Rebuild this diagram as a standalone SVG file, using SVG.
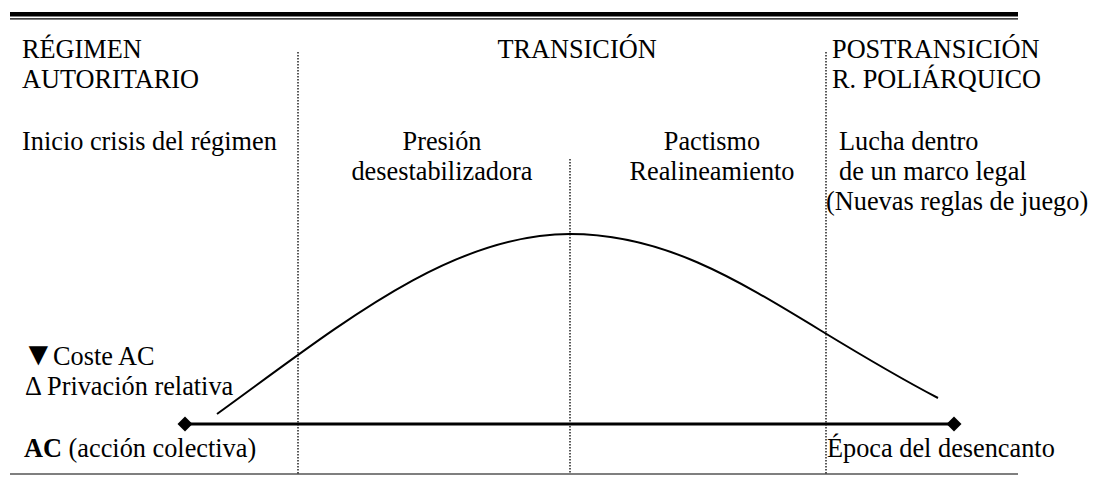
<svg xmlns="http://www.w3.org/2000/svg" width="1095" height="477" viewBox="0 0 1095 477">
  <style>
    text { font-family: "Liberation Serif", "Times New Roman", Tinos, "DejaVu Serif", serif; font-size: 26.3px; fill: #000; }
    .mid { text-anchor: middle; }
    .rule { stroke: #000; fill: none; }
    .dots { stroke: #000; stroke-width: 1.3; stroke-dasharray: 1.5 1.5; fill: none; }
    .curve { stroke: #000; stroke-width: 2; fill: none; }
    .axis { stroke: #000; stroke-width: 3; fill: none; }
  </style>
  <defs>
    <marker id="diamond" viewBox="-8 -8 16 16" markerWidth="16" markerHeight="16" refX="0" refY="0" markerUnits="userSpaceOnUse" orient="auto">
      <path d="M-7.5,0 L0,-7.5 L7.5,0 L0,7.5 Z" fill="#000"/>
    </marker>
  </defs>
  <rect width="1095" height="477" fill="#fff"/>

  <g id="frame">
    <rect x="10" y="12" width="1008" height="4.5" fill="#000"/>
    <line class="rule" x1="10" y1="18.8" x2="1018" y2="18.8" stroke-width="1.2"/>
    <line class="rule" x1="10" y1="474" x2="1018" y2="474" stroke-width="1.2"/>
  </g>

  <g id="dividers">
    <line class="dots" x1="298" y1="52" x2="298" y2="474"/>
    <line class="dots" x1="570" y1="159" x2="570" y2="474"/>
    <line class="dots" x1="826" y1="52" x2="826" y2="474"/>
  </g>

  <g id="connectors">
    <path class="curve" d="M217,414 C340,325 450,234 570,234 C700,234 788,320 938,398"/>
    <line class="axis" x1="185" y1="424" x2="954" y2="424" marker-start="url(#diamond)" marker-end="url(#diamond)"/>
  </g>

  <g id="regimen-autoritario">
    <text x="22" y="58">RÉGIMEN</text>
    <text x="22" y="88">AUTORITARIO</text>
  </g>
  <g id="transicion">
    <text class="mid" x="577" y="58">TRANSICIÓN</text>
  </g>
  <g id="postransicion">
    <text x="832" y="58">POSTRANSICIÓN</text>
    <text x="832" y="88">R. POLIÁRQUICO</text>
  </g>
  <g id="inicio-crisis">
    <text x="22" y="150">Inicio crisis del régimen</text>
  </g>
  <g id="presion">
    <text class="mid" x="442" y="150">Presión</text>
    <text class="mid" x="442" y="180">desestabilizadora</text>
  </g>
  <g id="pactismo">
    <text class="mid" x="712" y="150">Pactismo</text>
    <text class="mid" x="712" y="180">Realineamiento</text>
  </g>
  <g id="lucha">
    <text x="839" y="150">Lucha dentro</text>
    <text x="839" y="180">de un marco legal</text>
    <text x="826" y="210">(Nuevas reglas de juego)</text>
  </g>
  <g id="legend">
    <text x="22" y="365"><tspan font-size="33">▼</tspan><tspan x="53">Coste AC</tspan></text>
    <text x="25" y="395">Δ Privación relativa</text>
  </g>
  <g id="ac">
    <text x="24" y="457"><tspan font-weight="bold">AC</tspan> (acción colectiva)</text>
  </g>
  <g id="desencanto">
    <text x="827" y="457">Época del desencanto</text>
  </g>
</svg>
